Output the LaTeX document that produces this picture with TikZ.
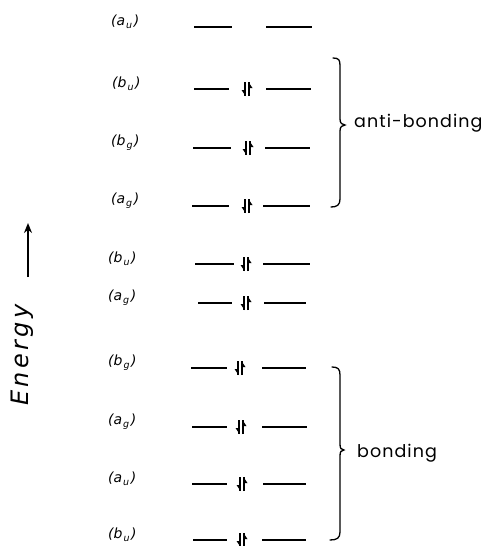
\documentclass[tikz,border=0pt]{standalone}
\usepackage{fontspec}
\setmainfont{Poppins}[LetterSpace=6]
\newfontfamily\labfont{DejaVu Sans}
\newfontfamily\enfont{DejaVu Sans}[LetterSpace=14]
\usetikzlibrary{arrows.meta}
\tikzset{
  level/.style={line width=1.4pt},
  lab/.style={font=\labfont\itshape\fontsize{14}{14}\selectfont, anchor=west, inner sep=0pt},
  brace/.style={line width=1.3pt, line cap=round},
  grp/.style={font=\fontsize{17.5}{17.5}\selectfont, anchor=west, inner sep=0pt},
}
\newcommand{\mylab}[2]{(#1\kern1pt\raisebox{-3pt}{\fontsize{9.5}{9.5}\selectfont #2}\kern1.5pt)}
\newcommand{\elpair}[2]{%
  \draw[line width=1.6pt] (#1-2.2,#2-7) -- (#1-2.2,#2+7);
  \fill (#1-1.4,#2+7) -- (#1-5.5,#2+1) -- (#1-1.4,#2+1) -- cycle;
  \draw[line width=1.6pt] (#1+2.2,#2+7) -- (#1+2.2,#2-7);
  \fill (#1+1.4,#2-7) -- (#1+5.5,#2-1) -- (#1+1.4,#2-1) -- cycle;
}
\begin{document}
\begin{tikzpicture}[x=1pt,y=-1pt]
\useasboundingbox (0,0) rectangle (490,546);
% levels: y, left x1, left x2, right x1, right x2
\foreach \y/\a/\b/\c/\d [count=\i] in {27/194/232/266/312, 89/194/229/266/311, 148/193/231/265/310, 206/192/229/263/310, 264/195/234/263/310, 303/198/232/264/306, 368/191/227/262/306, 427/192/227/262/307, 484/192/227/263/306, 540/193/227/262/306}{
  \draw[level] (\a,\y) -- (\b,\y);
  \draw[level] (\c,\y) -- (\d,\y);
}
% electron pairs
\foreach \x/\y in {247/89, 248/148, 247/206, 246/264, 246/303, 240/368, 241/427, 242/484, 242/540}{
  \elpair{\x}{\y}
}
% labels
\node[lab] (l1) at (111,22) {\mylab{a}{u}};
\node[lab] (l2) at (112,84) {\mylab{b}{u}};
\node[lab] (l3) at (111,143) {\mylab{b}{g}};
\node[lab] (l4) at (111,201) {\mylab{a}{g}};
\node[lab] (l5) at (108,259) {\mylab{b}{u}};
\node[lab] (l6) at (108,298) {\mylab{a}{g}};
\node[lab] (l7) at (108,363) {\mylab{b}{g}};
\node[lab] (l8) at (108,422) {\mylab{a}{g}};
\node[lab] (l9) at (108,479) {\mylab{a}{u}};
\node[lab] (l10) at (108,535) {\mylab{b}{u}};
% braces
\draw[brace] (333,58) .. controls (339,58) and (340,60) .. (340,66) -- (340,119)
  .. controls (340,123) and (342,125) .. (345,125)
  .. controls (342,125) and (340,127) .. (340,131) -- (340,199)
  .. controls (340,205) and (337,207) .. (331,207);
\draw[brace] (332,367) .. controls (338,367) and (340,369) .. (340,375) -- (340,444)
  .. controls (340,448) and (341,450) .. (344,450)
  .. controls (341,450) and (340,452) .. (340,456) -- (340,532)
  .. controls (340,538) and (337,540) .. (330,540);
\node[grp] (ab) at (354,123) {anti-bonding};
\node[grp] (bo) at (357,453) {bonding};
% energy axis
\coordinate (ebot) at (28,277);
\coordinate (etop) at (28,223);
\draw[line width=2pt, -{Stealth[length=10pt,width=8pt]}] (ebot) -- (etop);
\node[rotate=90, font=\enfont\itshape\fontsize{24}{24}\selectfont, inner sep=0pt] (en) at (22,355) {Energy};
\end{tikzpicture}
\end{document}
